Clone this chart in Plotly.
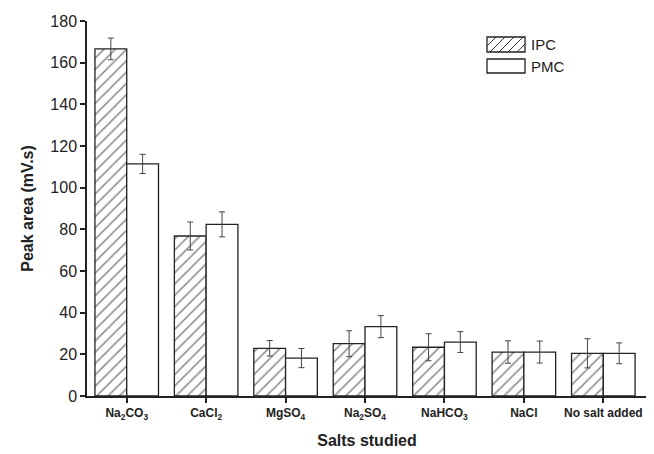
import plotly.graph_objects as go

categories = ["Na<sub>2</sub>CO<sub>3</sub>", "CaCl<sub>2</sub>", "MgSO<sub>4</sub>",
              "Na<sub>2</sub>SO<sub>4</sub>", "NaHCO<sub>3</sub>", "NaCl", "No salt added"]
ipc_values = [166.6, 76.8, 22.9, 25.1, 23.4, 21.1, 20.5]
ipc_errors = [5.2, 6.7, 3.7, 6.2, 6.5, 5.4, 7.0]
pmc_values = [111.4, 82.4, 18.2, 33.3, 25.9, 21.1, 20.5]
pmc_errors = [4.6, 6.0, 4.6, 5.3, 5.0, 5.3, 5.0]
y_ticks = [0, 20, 40, 60, 80, 100, 120, 140, 160, 180]
series_names = ["IPC", "PMC"]

FONT = "Liberation Sans, Arial, sans-serif"
INK = "#222"
x_idx = list(range(len(categories)))

# The page body has an 8px default margin, so the figure is sized to fit.
W, H = 646, 446
ML, MR, MT, MB = 79, 7, 13, 58
PW, PH = W - ML - MR, H - MT - MB

fig = go.Figure()
fig.add_trace(go.Bar(
    name=series_names[0], x=x_idx, y=ipc_values, showlegend=False,
    error_y=dict(type="data", array=ipc_errors, color="#444", thickness=1, width=3),
    marker=dict(color="white", line=dict(color=INK, width=1.3),
                pattern=dict(shape="/", fgcolor="#222", bgcolor="white", size=8, solidity=0.2)),
))
fig.add_trace(go.Bar(
    name=series_names[1], x=x_idx, y=pmc_values, showlegend=False,
    error_y=dict(type="data", array=pmc_errors, color="#444", thickness=1, width=3),
    marker=dict(color="white", line=dict(color=INK, width=1.3)),
))


def px2paper(xp, yp):
    return (xp - ML) / PW, (MT + PH - yp) / PH


# custom legend (wide rectangular keys like the reference)
shapes = []
annotations = []
key_x0, key_x1 = 479, 517
rows = [(29, 44), (51, 65)]
for i, (ky0, ky1) in enumerate(rows):
    x0, y0 = px2paper(key_x0, ky1)
    x1, y1 = px2paper(key_x1, ky0)
    if i == 0:
        segs = []
        step = 9
        hgt = ky1 - ky0
        start = key_x0 - hgt
        while start < key_x1:
            ax, ay = start, ky1
            bx, by = start + hgt, ky0
            if ax < key_x0:
                ay = ky1 - (key_x0 - ax)
                ax = key_x0
            if bx > key_x1:
                by = ky0 + (bx - key_x1)
                bx = key_x1
            if bx > ax:
                p0 = px2paper(ax, ay)
                p1 = px2paper(bx, by)
                segs.append(f"M{p0[0]:.4f},{p0[1]:.4f} L{p1[0]:.4f},{p1[1]:.4f}")
            start += step
        shapes.append(dict(type="path", xref="paper", yref="paper", path=" ".join(segs),
                           line=dict(color="#333", width=1)))
    shapes.append(dict(type="rect", xref="paper", yref="paper", x0=x0, y0=y0, x1=x1, y1=y1,
                       line=dict(color=INK, width=1.3), fillcolor="rgba(0,0,0,0)"))
    tx, ty = px2paper(key_x1 + 4, (ky0 + ky1) / 2)
    annotations.append(dict(text=series_names[i], xref="paper", yref="paper", x=tx, y=ty,
                            xanchor="left", yanchor="middle", showarrow=False,
                            font=dict(size=15, family=FONT, color=INK)))

fig.update_layout(
    width=W, height=H,
    margin=dict(l=ML, r=MR, t=MT, b=MB, autoexpand=False),
    paper_bgcolor="white", plot_bgcolor="white",
    barmode="group", bargap=0.2, bargroupgap=0,
    font=dict(family=FONT, color=INK),
    showlegend=False,
    shapes=shapes, annotations=annotations,
    xaxis=dict(
        range=[-0.5, 6.55], tickmode="array", tickvals=x_idx, ticktext=categories,
        showline=True, linecolor=INK, linewidth=1.5,
        ticks="outside", ticklen=5, tickcolor=INK, tickwidth=1.5,
        tickfont=dict(size=12, family=FONT, weight="bold", color=INK),
        showgrid=False, zeroline=False, automargin=False,
        title=dict(text="<b>Salts studied</b>", font=dict(size=16, family=FONT, color=INK), standoff=14),
    ),
    yaxis=dict(
        range=[0, 180], tickmode="array", tickvals=y_ticks,
        showline=True, linecolor=INK, linewidth=1.5,
        ticks="outside", ticklen=5, tickcolor=INK, tickwidth=1.5,
        tickfont=dict(size=16, family=FONT, color=INK),
        showgrid=False, zeroline=False, automargin=False,
        title=dict(text="<b>Peak area (mV.s)</b>", font=dict(size=16, family=FONT, color=INK), standoff=13),
    ),
)

fig.write_html("out.html")
